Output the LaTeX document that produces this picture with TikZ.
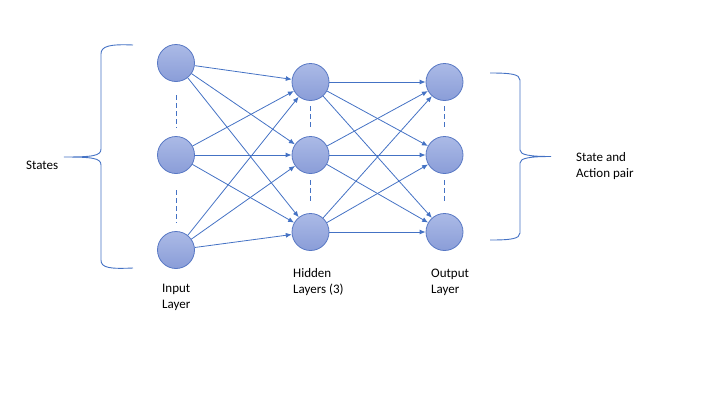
\documentclass[tikz,border=0pt]{standalone}
\usepackage{fontspec}
\setmainfont{Carlito}
\usetikzlibrary{arrows.meta,calc}
\definecolor{edgeblue}{HTML}{4472C4}
\definecolor{rimblue}{HTML}{5878C4}
\definecolor{topfill}{HTML}{ABBAE6}
\definecolor{botfill}{HTML}{8A9DD8}
\tikzset{
  neuron/.style={circle, draw=rimblue, line width=0.8pt, minimum size=37pt, inner sep=0pt,
    top color=topfill, bottom color=botfill},
  conn/.style={draw=edgeblue, line width=0.8pt, -{Latex[length=6pt,width=5pt]}},
  dots/.style={draw=edgeblue, line width=0.9pt, dash pattern=on 5pt off 3pt},
  brace/.style={draw=edgeblue, line width=0.9pt},
  lbl/.style={anchor=base west, inner sep=0pt, align=left, font=\fontsize{13}{15.5}\selectfont, text=black}
}
\begin{document}
\begin{tikzpicture}[x=1pt,y=-1pt]
\useasboundingbox (0,0) rectangle (720,405);
% neurons
\node[neuron] (i1) at (176,63) {};
\node[neuron] (i2) at (176,155) {};
\node[neuron] (i3) at (176,250) {};
\node[neuron] (h1) at (310.5,82) {};
\node[neuron] (h2) at (310.5,155) {};
\node[neuron] (h3) at (310.5,232) {};
\node[neuron] (o1) at (444.5,82) {};
\node[neuron] (o2) at (444.5,155) {};
\node[neuron] (o3) at (444.5,232) {};
% dashed vertical dots
\coordinate (di1) at (176,95);  \coordinate (di2) at (176,128);
\coordinate (di3) at (176,190); \coordinate (di4) at (176,223);
\coordinate (dh1) at (310.5,106); \coordinate (dh2) at (310.5,127);
\coordinate (dh3) at (310.5,180); \coordinate (dh4) at (310.5,202);
\coordinate (do1) at (444.5,106); \coordinate (do2) at (444.5,127);
\coordinate (do3) at (444.5,180); \coordinate (do4) at (444.5,202);
\draw[dots] (di1) -- (di2);
\draw[dots] (di3) -- (di4);
\draw[dots] (dh1) -- (dh2);
\draw[dots] (dh3) -- (dh4);
\draw[dots] (do1) -- (do2);
\draw[dots] (do3) -- (do4);
% connections
\foreach \a in {i1,i2,i3}{\foreach \b in {h1,h2,h3}{\draw[conn] (\a) -- (\b);}}
\foreach \a in {h1,h2,h3}{\foreach \b in {o1,o2,o3}{\draw[conn] (\a) -- (\b);}}
% left brace
\coordinate (lbt) at (133,45);
\coordinate (lbb) at (133,268);
\coordinate (lbtip) at (64,157);
\draw[brace] (lbt) .. controls (110,44) and (101,46) .. (101,54)
  -- (101,149) .. controls (101,156) and (92,157) .. (lbtip)
  .. controls (92,157) and (101,158) .. (101,165)
  -- (101,260) .. controls (101,268) and (110,269) .. (lbb);
% right brace
\coordinate (rbt) at (490,73);
\coordinate (rbb) at (490,240);
\coordinate (rbtip) at (551,156.5);
\draw[brace] (rbt) .. controls (510,73) and (520,74) .. (520,80)
  -- (520,150) .. controls (520,155) and (530,156.5) .. (rbtip)
  .. controls (530,156.5) and (520,158) .. (520,163)
  -- (520,233) .. controls (520,239) and (510,240) .. (rbb);
% labels (base anchor = last line's baseline)
\node[lbl] (tstates) at (26,169) {States};
\node[lbl] (tsa) at (576,177) {State and\\Action pair};
\node[lbl] (tin) at (162,308) {Input\\Layer};
\node[lbl] (thid) at (293,293) {Hidden\\Layers (3)};
\node[lbl] (tout) at (431,293) {Output\\Layer};
\end{tikzpicture}
\end{document}
